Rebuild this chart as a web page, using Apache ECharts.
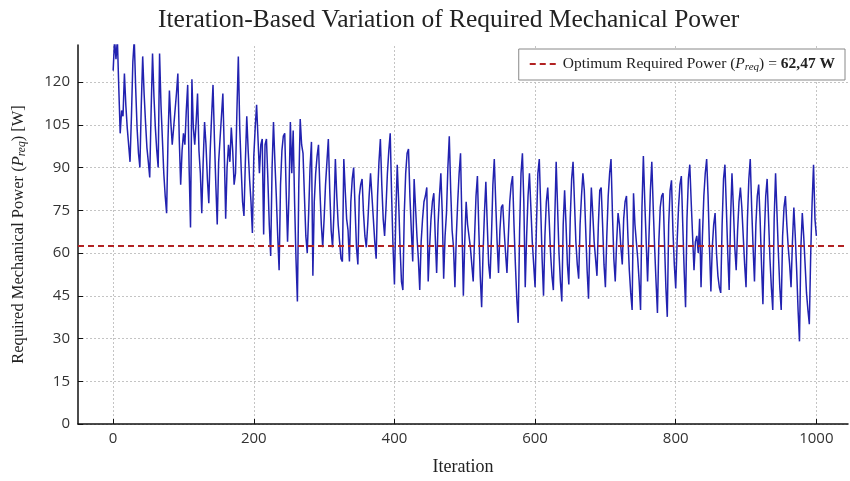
<!DOCTYPE html>
<html>
<head>
<meta charset="utf-8">
<script src="https://cdn.jsdelivr.net/npm/echarts@6/dist/echarts.min.js"></script>
<style>
  html, body { margin: 0; padding: 0; background: #fff; }
  #chart { width: 850px; height: 481px; }
</style>
</head>
<body>
<div id="chart"></div>
<script>
// iteration step between stored samples
const iterationStep = 2;
// required mechanical power, every 2 iterations (0..1000)
const powerValues = [
  124,135,128,135,118,102,110,108,123,112,104,98,92,108,127,135,118,104,95,90,112,129,116,106,97,
  92,86.5,110,130,115,104,96,90,130,112,100,88,80,74,100,117,106,98,104,110,116,123,100,84,96,
  102,98,110,119,90,69,121,104,98,106,116,96,88,74,92,106,98,86,77.5,96,108,119,100,84,70,
  92,100,108,116,96,72,90,98,92,104,96,84,88,110,129,104,90,78,73,92,108,96,86,78,67,
  94,104,112,100,88,98,100,66.5,98,100,86,70,59,90,106,92,80,66,54,84,96,101,102,82,64,
  80,106,88,103,78,58,43,84,107,98,95,80,66,60,74,90,99,52,78,88,94,98,82,70,62,
  72,84,92,100,82,68,62,74,93,80,70,64,58,57,93,82,72,68,57,78,86,90,76,62,56,
  80,84,86,74,66,62,70,80,88,80,72,64,58,80,92,100,84,72,66,76,88,96,102,80,62,
  49,74,91,78,62,50,47,74,88,95,96.5,80,68,57,86,76,66,58,47,64,72,78,80,83,50,
  62,72,78,81,66,53,70,80,88,74,51,66,74,90,101,82,68,62,48,66,78,88,95,70,45,
  64,78,70,66,62,56,50,66,80,87,68,52,41,60,74,85,70,56,51,66,84,93,78,64,53,
  68,76,77,68,60,53,66,78,84,87,70,56,44,35.5,68,88,95,78,48,66,80,88,76,64,56,
  48,70,88,93,76,58,45,66,78,83,72,60,52,47,72,92,76,60,50,43,70,82,70,56,49,
  72,86,92,78,64,56,51,70,80,88,82,68,54,44,66,83,74,64,58,52,70,82,83,70,56,
  48,66,80,88,93,74,58,50,64,74,70,62,56,72,78,80,66,54,46,40,81,70,64,58,50,
  40,76,94,78,64,50,66,82,92,76,62,50,39,64,76,80,81,64,48,37.6,70,82,85.5,68,56,
  47.6,64,76,84,87,70,54,41,72,86,91,78,66,54,64,66,60,72,48,66,80,88,93,80,62,
  46.5,62,70,74,60,52,48,46,70,86,91,76,60,47,72,88,76,62,54,68,78,83,76,66,56,
  48,72,86,93,76,62,50,70,80,84,72,56,42,66,80,86,72,58,48,40,72,88,74,60,48,
  40,66,76,80,70,62,56,48,64,76,66,54,40,29,62,74,66,56,46,40,35,60,78,91,72,
  66
];
const optimumPower = 62.47;
const xTicks = [0, 200, 400, 600, 800, 1000];
const yTicks = [0, 15, 30, 45, 60, 75, 90, 105, 120];
const xMin = -50, xMax = 1045;

let chart = echarts.init(document.getElementById("chart"));

let powerData = powerValues.map((v, i) => [i * iterationStep, v]);

const gridLine = { color: "#c4c4c4", type: [2, 2], width: 1 };

let option = {
    backgroundColor: "#fff",
    animation: false,
    title: {
        text: "Iteration-Based Variation of Required Mechanical Power",
        left: 153,
        top: 2,
        textStyle: { fontFamily: "Liberation Serif", fontSize: 25.5, fontWeight: "normal", color: "#222" }
    },
    legend: {
        right: 5,
        top: 49,
        data: ["optimum"],
        backgroundColor: "#fff",
        borderColor: "#888",
        borderWidth: 1,
        padding: [7, 10, 7, 10],
        itemWidth: 28,
        itemHeight: 10,
        itemGap: 8,
        itemStyle: { opacity: 0 },
        formatter: function () {
            return "{n|Optimum Required Power (}{i|P}{s|req}{n|) = }{b|62,47 W}";
        },
        textStyle: {
            color: "#222",
            rich: {
                n: { fontFamily: "Liberation Serif", fontSize: 15.5, color: "#222" },
                i: { fontFamily: "Liberation Serif", fontSize: 15.5, fontStyle: "italic", color: "#222" },
                s: { fontFamily: "Liberation Serif", fontSize: 11, fontStyle: "italic", color: "#222", padding: [7, 0, 0, 0] },
                b: { fontFamily: "Liberation Serif", fontSize: 15.5, fontWeight: "bold", color: "#222" }
            }
        }
    },
    grid: { left: 78, right: 2, top: 45, bottom: 53 },
    xAxis: {
        type: "value",
        min: xMin,
        max: xMax,
        name: "Iteration",
        nameLocation: "middle",
        nameGap: 34,
        nameTextStyle: { fontFamily: "Liberation Serif", fontSize: 18, color: "#222" },
        axisLine: { onZero: false, lineStyle: { color: "#111", width: 1.5 } },
        axisTick: { inside: true, length: 5, customValues: xTicks, lineStyle: { color: "#111" } },
        axisLabel: {
            customValues: xTicks, margin: 7, fontFamily: "Open Sans", fontSize: 15, color: "#333",
            formatter: v => String(v)
        },
        splitLine: { show: false }
    },
    yAxis: {
        type: "value",
        min: 0,
        max: 133,
        name: "{n|Required Mechanical Power (}{i|P}{s|req}{n|) [W]}",
        nameLocation: "middle",
        nameGap: 50,
        nameTextStyle: {
            rich: {
                n: { fontFamily: "Liberation Serif", fontSize: 16.5, color: "#222" },
                i: { fontFamily: "Liberation Serif", fontSize: 16.5, fontStyle: "italic", color: "#222" },
                s: { fontFamily: "Liberation Serif", fontSize: 11.5, fontStyle: "italic", color: "#222", padding: [7, 0, 0, 0] }
            }
        },
        axisLine: { show: true, onZero: false, lineStyle: { color: "#111", width: 1.5 } },
        axisTick: { show: true, inside: true, length: 5, customValues: yTicks, lineStyle: { color: "#111" } },
        axisLabel: { customValues: yTicks, margin: 8, fontFamily: "Open Sans", fontSize: 15, color: "#333" },
        splitLine: { show: true, lineStyle: gridLine }
    },
    series: [
        {
            // vertical grid lines at the x tick values
            name: "xgrid",
            type: "line",
            data: [],
            silent: true,
            z: 0,
            markLine: {
                silent: true,
                z: 0,
                symbol: "none",
                label: { show: false },
                lineStyle: gridLine,
                data: xTicks.map(t => ({ xAxis: t }))
            }
        },
        {
            name: "power",
            type: "line",
            data: powerData,
            symbol: "none",
            clip: true,
            lineStyle: { color: "#2222b0", width: 1.5 },
            z: 5
        },
        {
            name: "optimum",
            type: "line",
            data: [[xMin, optimumPower], [xMax, optimumPower]],
            symbol: "none",
            lineStyle: { color: "#b22222", width: 2, type: [6, 4] },
            itemStyle: { color: "#b22222" },
            z: 6
        }
    ]
};
chart.setOption(option);
</script>
</body>
</html>
